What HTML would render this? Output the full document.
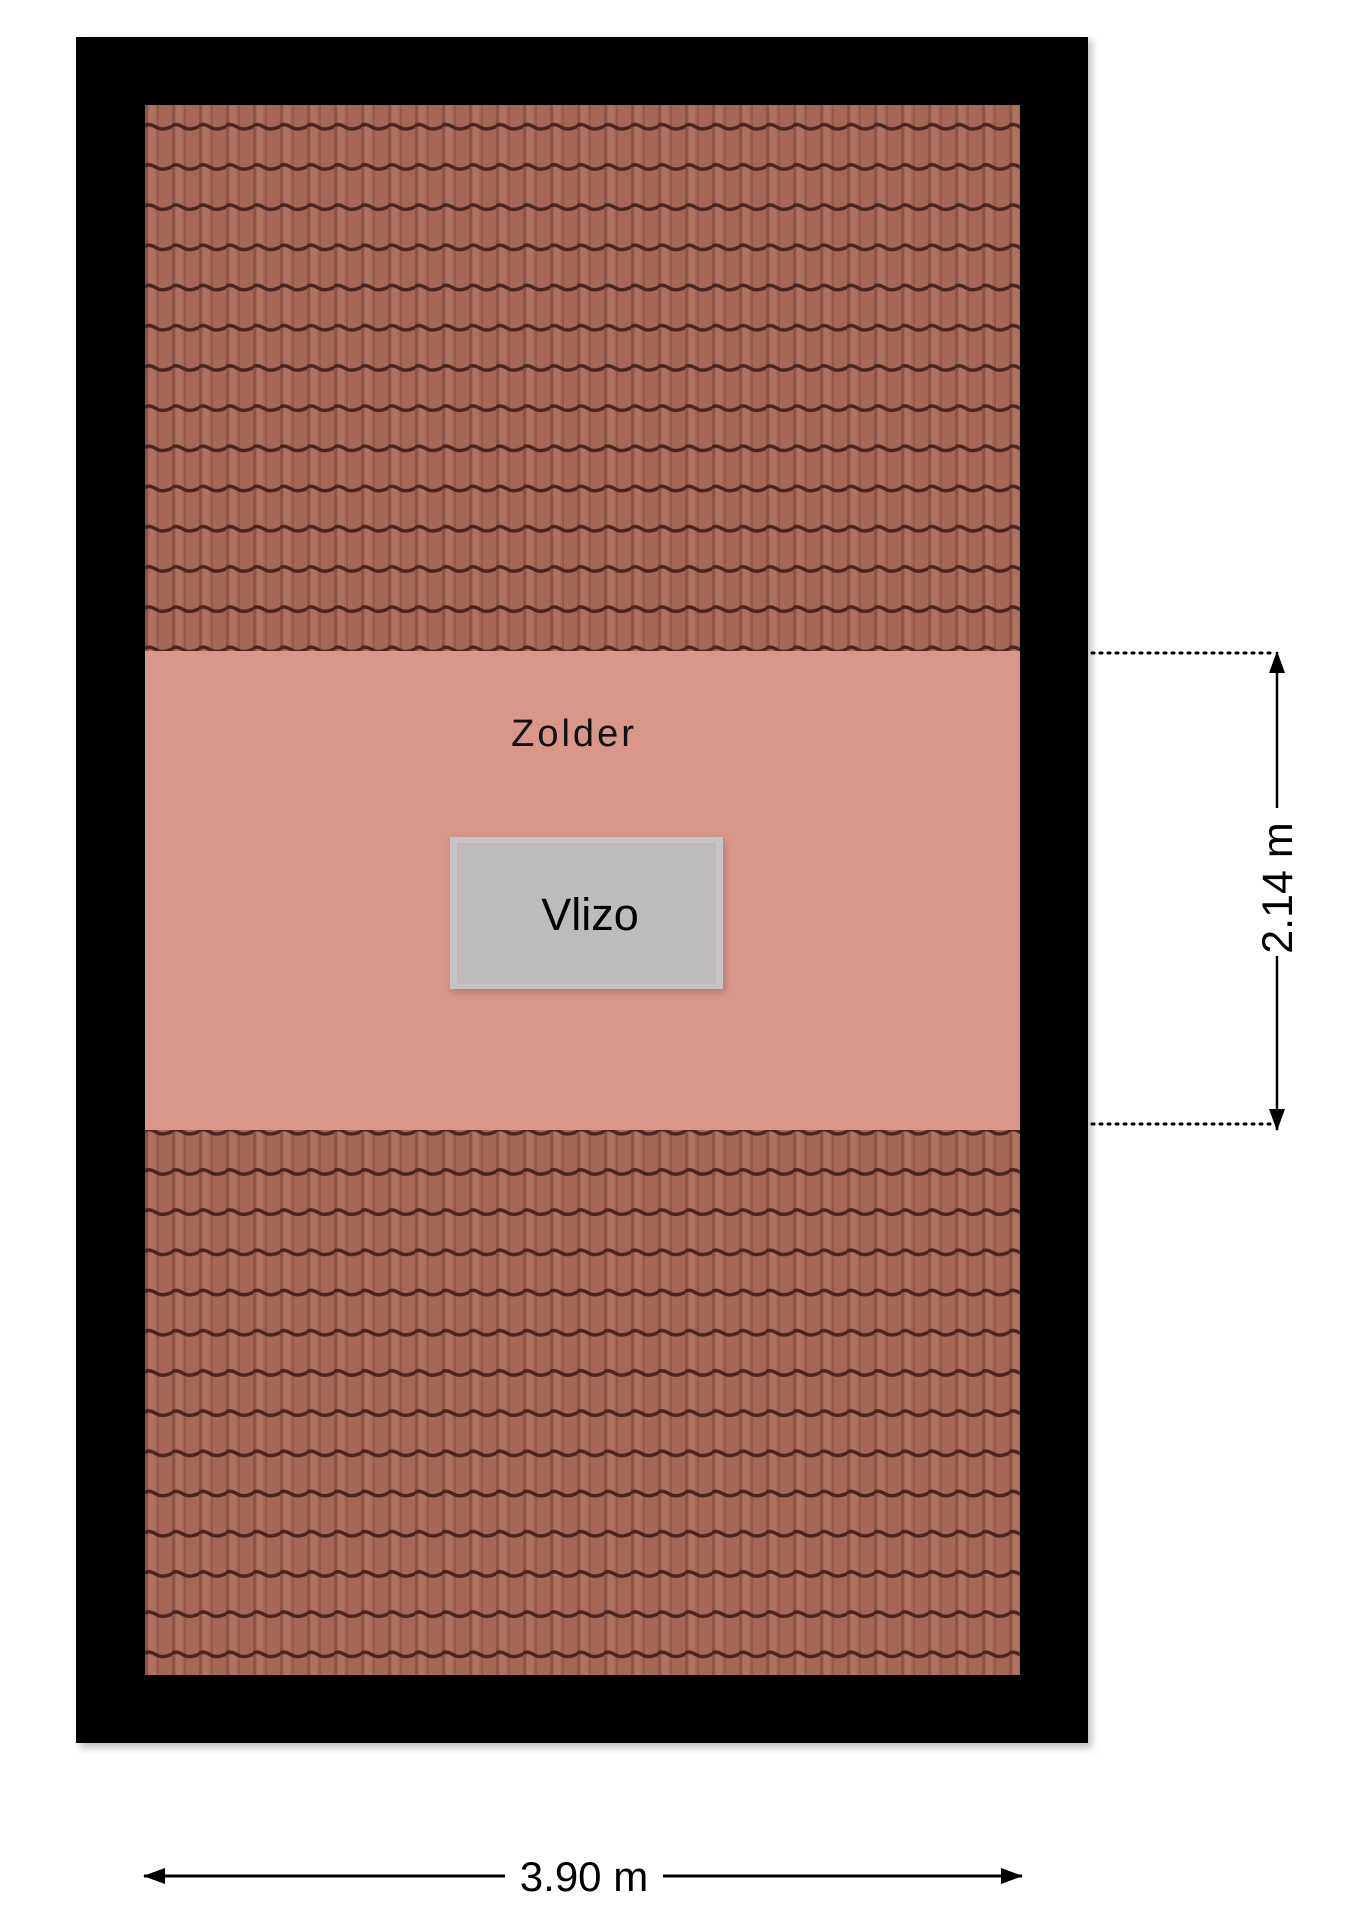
<!DOCTYPE html>
<html><head><meta charset="utf-8"><style>
html,body{margin:0;padding:0;background:#fff;}
svg{display:block;}
</style></head><body>
<svg width="1358" height="1920" viewBox="0 0 1358 1920" xmlns="http://www.w3.org/2000/svg">
<defs>
<pattern id="tile" x="145" y="87" width="27" height="40.2" patternUnits="userSpaceOnUse">
<rect width="27" height="40.2" fill="#a56857"/>
<rect x="0" y="0" width="3" height="40.2" fill="#8e5547"/>
<rect x="12" y="0" width="2" height="40.2" fill="#955a4c"/>
<rect x="4" y="0" width="6" height="40.2" fill="#ae7261"/>
<path d="M-1,39 Q4,36 9,39 L14,41.5 Q20,43 28,39" fill="none" stroke="#4a2520" stroke-width="3.5"/>
<path d="M-1,-1.2 Q4,-4.2 9,-1.2 L14,1.3 Q20,2.8 28,-1.2" fill="none" stroke="#4a2520" stroke-width="3.5"/>
</pattern>
<filter id="sh" x="-5%" y="-5%" width="110%" height="110%"><feGaussianBlur stdDeviation="4"/></filter>
<marker id="ah" markerWidth="22" markerHeight="16" refX="21" refY="8" orient="auto" markerUnits="userSpaceOnUse"><path d="M0,0 L22,8 L0,16 Z" fill="#000"/></marker>
</defs>
<rect x="80" y="40" width="1012" height="1708" fill="#000" opacity="0.25" filter="url(#sh)"/>
<rect x="76" y="37" width="1012" height="1706" fill="#000"/>
<rect x="145" y="105" width="875" height="1570" fill="url(#tile)"/>
<rect x="145" y="651" width="875" height="479" fill="#d9978a"/>
<text x="574" y="746" font-family="Liberation Sans, sans-serif" font-size="38" letter-spacing="3" text-anchor="middle" fill="#111">Zolder</text>
<rect x="452" y="840" width="273" height="152" fill="#000" opacity="0.2" filter="url(#sh)"/>
<rect x="450" y="837" width="273" height="152" fill="#c4c4c4"/>
<rect x="458" y="844" width="257" height="139" fill="#bcbcbc" stroke="#d0a8a0" stroke-width="1"/>
<text x="590" y="930" font-family="Liberation Sans, sans-serif" font-size="45" text-anchor="middle" fill="#000">Vlizo</text>
<line x1="1092" y1="653" x2="1270" y2="653" stroke="#000" stroke-width="3" stroke-dasharray="2,6" stroke-linecap="round"/>
<line x1="1092" y1="1124" x2="1270" y2="1124" stroke="#000" stroke-width="3" stroke-dasharray="2,6" stroke-linecap="round"/>
<line x1="1277" y1="808" x2="1277" y2="652" stroke="#000" stroke-width="2.5" marker-end="url(#ah)"/>
<line x1="1277" y1="956" x2="1277" y2="1130" stroke="#000" stroke-width="2.5" marker-end="url(#ah)"/>
<text transform="translate(1292,888) rotate(-90)" font-family="Liberation Sans, sans-serif" font-size="43" text-anchor="middle" fill="#000">2.14 m</text>
<line x1="505" y1="1876" x2="144" y2="1876" stroke="#000" stroke-width="3" marker-end="url(#ah)"/>
<line x1="663" y1="1876" x2="1022" y2="1876" stroke="#000" stroke-width="3" marker-end="url(#ah)"/>
<text x="584" y="1891" font-family="Liberation Sans, sans-serif" font-size="42" text-anchor="middle" fill="#000">3.90 m</text>
</svg>
</body></html>
